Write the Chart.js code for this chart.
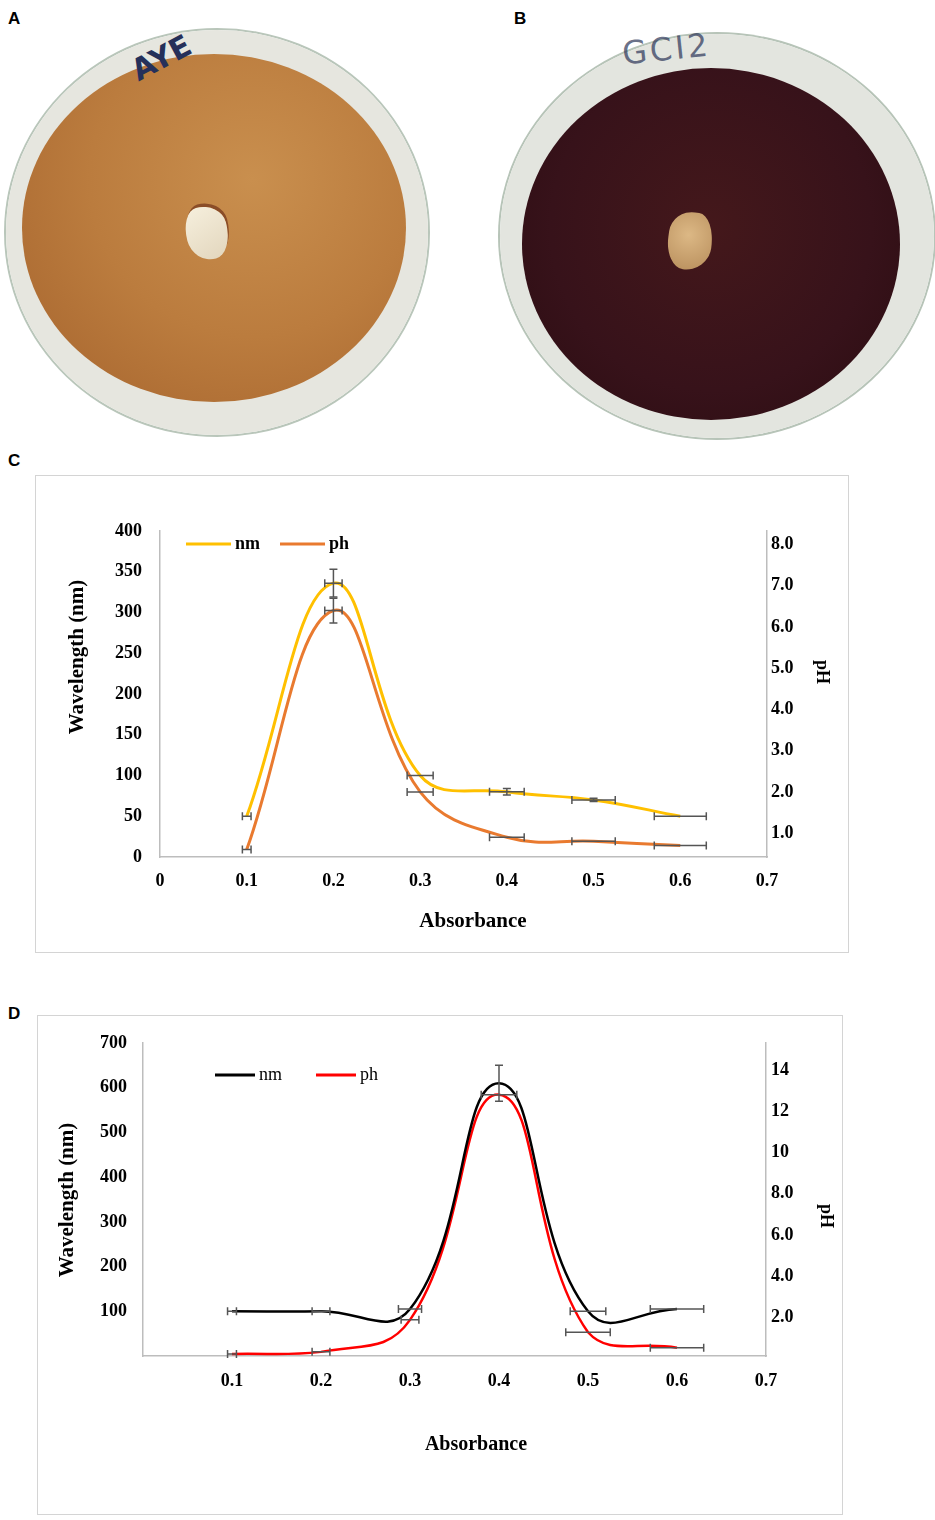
<!DOCTYPE html>
<html>
<head>
<meta charset="utf-8">
<script src="https://cdn.jsdelivr.net/npm/chart.js@4.4.1/dist/chart.umd.min.js"></script>
<style>
  body { margin: 0; background: #fff; }
  #page { position: relative; width: 935px; height: 1520px; overflow: hidden; }
  .lbl { position: absolute; font: bold 17px "Liberation Sans", Arial, sans-serif; color: #000; }
  .dish { position: absolute; border-radius: 50%; }
  .agar { position: absolute; border-radius: 50%; }
  .plug { position: absolute; }
  .ink { position: absolute; font-family: "DejaVu Sans", sans-serif; font-weight: bold; }
  .box { position: absolute; border: 1px solid #d4d4d4; background: #fff; }
  .box canvas { display: block; }
</style>
</head>
<body>
<div id="page">

  <div class="lbl" style="left:8px;top:9px">A</div>
  <div class="lbl" style="left:514px;top:9px">B</div>
  <div class="lbl" style="left:8px;top:451px">C</div>
  <div class="lbl" style="left:8px;top:1004px">D</div>

  <!-- plate A -->
  <div class="dish" style="left:6px;top:30px;width:422px;height:405px;
       background:radial-gradient(ellipse at center,#e6e6df 84%,#cdd6cb 91%,#8fae98 96%,#dfe4dc 100%);
       box-shadow:0 0 0 2px #b9c6ba;"></div>
  <div class="agar" style="left:22px;top:54px;width:384px;height:348px;
       background:radial-gradient(ellipse at 60% 36%,#c98f4e 0%,#bb7c3e 50%,#a5632d 100%);"></div>
  <div class="plug" style="left:186px;top:206px;width:42px;height:54px;transform:rotate(-15deg);
       border-radius:40% 60% 45% 55% / 55% 40% 60% 45%;
       background:linear-gradient(160deg,#f6efdd,#e2d6bd);box-shadow:2px -3px 0 #8a4d28;"></div>
  <div class="ink" style="left:130px;top:40px;font-size:30px;color:#25305a;transform:rotate(-28deg);">AYE</div>

  <!-- plate B -->
  <div class="dish" style="left:500px;top:34px;width:434px;height:404px;
       background:radial-gradient(ellipse at center,#e3e5df 85%,#c9d3c8 91%,#89a993 96%,#dde3da 100%);
       box-shadow:0 0 0 2px #b7c4b8;"></div>
  <div class="agar" style="left:522px;top:68px;width:378px;height:352px;
       background:radial-gradient(ellipse at 50% 45%,#44181b 0%,#37121a 60%,#2a0c10 100%);"></div>
  <div class="plug" style="left:668px;top:212px;width:44px;height:58px;transform:rotate(8deg);
       border-radius:55% 40% 60% 45% / 40% 60% 45% 55%;
       background:radial-gradient(circle at 45% 40%,#dcb885,#b68c5a);"></div>
  <div class="ink" style="left:622px;top:30px;font-size:32px;font-weight:normal;letter-spacing:3px;color:rgba(40,50,85,0.7);transform:rotate(-6deg);">GCI2</div>

  <!-- chart C -->
  <div class="box" style="left:35px;top:475px;width:812px;height:476px;">
    <canvas id="chartC" width="812" height="476"></canvas>
  </div>

  <!-- chart D -->
  <div class="box" style="left:37px;top:1015px;width:804px;height:498px;">
    <canvas id="chartD" width="804" height="498"></canvas>
  </div>
</div>

<script>
// shared x values
const absorbance = [0.1, 0.2, 0.3, 0.4, 0.5, 0.6];

// panel C
const nmC = [50, 336, 100, 80, 70, 50];
const phC = [0.6, 6.4, 2.0, 0.9, 0.8, 0.7];
const nmC_xErr = [0.005, 0.01, 0.015, 0.02, 0.025, 0.03];
const nmC_yErr = [0, 17, 0, 4, 2, 0];
const phC_xErr = [0.005, 0.01, 0.015, 0.02, 0.025, 0.03];
const phC_yErr = [0, 0.3, 0, 0, 0, 0];
const xTicksC = [0, 0.1, 0.2, 0.3, 0.4, 0.5, 0.6, 0.7];
const nmTicksC = [0, 50, 100, 150, 200, 250, 300, 350, 400];
const phTicksC = [1, 2, 3, 4, 5, 6, 7, 8];

// panel D
const nmD = [100, 100, 105, 610, 100, 105];
const phD = [0.25, 0.35, 1.9, 12.8, 1.3, 0.55];
const nmD_xErr = [0.005, 0.01, 0.013, 0, 0.02, 0.03];
const nmD_yErr = [0, 0, 0, 40, 0, 0];
const phD_xErr = [0.005, 0.01, 0.01, 0.02, 0.025, 0.03];
const phD_yErr = [0, 0, 0, 0, 0, 0];
const xTicksD = [0.1, 0.2, 0.3, 0.4, 0.5, 0.6, 0.7];
const nmTicksD = [100, 200, 300, 400, 500, 600, 700];
const phTicksD = [2, 4, 6, 8, 10, 12, 14];

const serif = "'Liberation Serif', 'Times New Roman', serif";

function points(xs, ys) {
  return xs.map((x, i) => ({ x: x, y: ys[i] }));
}

function useTicks(values) {
  return axis => { axis.ticks = values.map(v => ({ value: v })); };
}

// error bars, drawn through the dataset's own scales
const errorBars = {
  id: "errorBars",
  afterDatasetsDraw(chart, args, opts) {
    const ctx = chart.ctx;
    const cap = 4;
    ctx.save();
    ctx.strokeStyle = opts.color || "#555";
    ctx.lineWidth = 1.5;
    chart.data.datasets.forEach((ds, i) => {
      const meta = chart.getDatasetMeta(i);
      const xs = chart.scales[meta.xAxisID];
      const ys = chart.scales[meta.yAxisID];
      ds.data.forEach((p, j) => {
        const px = xs.getPixelForValue(p.x);
        const py = ys.getPixelForValue(p.y);
        const ex = ds.xErr ? ds.xErr[j] : 0;
        const ey = ds.yErr ? ds.yErr[j] : 0;
        ctx.beginPath();
        if (ex) {
          const x0 = xs.getPixelForValue(p.x - ex);
          const x1 = xs.getPixelForValue(p.x + ex);
          ctx.moveTo(x0, py); ctx.lineTo(x1, py);
          ctx.moveTo(x0, py - cap); ctx.lineTo(x0, py + cap);
          ctx.moveTo(x1, py - cap); ctx.lineTo(x1, py + cap);
        }
        if (ey) {
          const y0 = ys.getPixelForValue(p.y - ey);
          const y1 = ys.getPixelForValue(p.y + ey);
          ctx.moveTo(px, y0); ctx.lineTo(px, y1);
          ctx.moveTo(px - cap, y0); ctx.lineTo(px + cap, y0);
          ctx.moveTo(px - cap, y1); ctx.lineTo(px + cap, y1);
        }
        ctx.stroke();
      });
    });
    ctx.restore();
  }
};

// small line legend inside the plot
const lineLegend = {
  id: "lineLegend",
  afterDraw(chart, args, opts) {
    const ctx = chart.ctx;
    let x = opts.x;
    ctx.save();
    ctx.font = opts.font;
    ctx.textBaseline = "middle";
    ctx.fillStyle = "#000";
    chart.data.datasets.forEach(ds => {
      ctx.strokeStyle = ds.borderColor;
      ctx.lineWidth = 3;
      ctx.beginPath();
      ctx.moveTo(x, opts.y);
      ctx.lineTo(x + opts.lineLen, opts.y);
      ctx.stroke();
      ctx.fillText(ds.label, x + opts.lineLen + 4, opts.y);
      x += opts.step;
    });
    ctx.restore();
  }
};

// axis titles placed where the figure has them
const axisTitles = {
  id: "axisTitles",
  afterDraw(chart, args, opts) {
    const ctx = chart.ctx;
    opts.items.forEach(it => {
      ctx.save();
      ctx.translate(it.x, it.y);
      ctx.rotate(it.rotate || 0);
      ctx.font = it.font;
      ctx.fillStyle = "#000";
      ctx.textAlign = "center";
      ctx.textBaseline = "middle";
      ctx.fillText(it.text, 0, 0);
      ctx.restore();
    });
  }
};

function makeChart(id, cfg) {
  const tickFont = { family: serif, weight: "bold", size: 18 };
  return new Chart(document.getElementById(id), {
    type: "line",
    data: {
      datasets: [
        {
          label: "nm",
          data: points(absorbance, cfg.nm),
          xErr: cfg.nmXErr,
          yErr: cfg.nmYErr,
          yAxisID: "y",
          borderColor: cfg.nmColor,
          borderWidth: cfg.lineWidth,
          pointRadius: 0,
          tension: cfg.tension,
          fill: false
        },
        {
          label: "ph",
          data: points(absorbance, cfg.ph),
          xErr: cfg.phXErr,
          yErr: cfg.phYErr,
          yAxisID: "y2",
          borderColor: cfg.phColor,
          borderWidth: cfg.lineWidth,
          pointRadius: 0,
          tension: cfg.tension,
          fill: false
        }
      ]
    },
    options: {
      responsive: false,
      animation: false,
      layout: { padding: { top: cfg.top, left: 0, right: 0, bottom: 0 } },
      plugins: {
        legend: { display: false },
        tooltip: { enabled: false },
        errorBars: { color: "#555" },
        lineLegend: cfg.legend,
        axisTitles: { items: cfg.titles }
      },
      scales: {
        x: {
          type: "linear",
          min: 0,
          max: 0.7,
          afterBuildTicks: useTicks(cfg.xTicks),
          afterFit: s => { s.height = cfg.xHeight; },
          grid: { display: false, drawTicks: false },
          border: { display: true, color: "#bdbdbd", width: 1.5 },
          ticks: {
            color: "#000",
            font: tickFont,
            padding: cfg.xPad,
            maxRotation: 0,
            callback: v => (v === 0 ? "0" : v.toFixed(1))
          }
        },
        y: {
          position: "left",
          min: 0,
          max: cfg.nmMax,
          afterBuildTicks: useTicks(cfg.nmTicks),
          afterFit: s => { s.width = cfg.leftWidth; },
          grid: { display: false, drawTicks: false },
          border: { display: true, color: "#bdbdbd", width: 1.5 },
          ticks: { color: "#000", font: tickFont, padding: cfg.leftPad }
        },
        y2: {
          position: "right",
          min: cfg.phMin,
          max: cfg.phMax,
          afterBuildTicks: useTicks(cfg.phTicks),
          afterFit: s => { s.width = cfg.rightWidth; },
          grid: { display: false, drawTicks: false },
          border: { display: true, color: "#bdbdbd", width: 1.5 },
          ticks: {
            color: "#000",
            font: tickFont,
            padding: cfg.rightPad,
            callback: v => (v >= 10 ? String(v) : v.toFixed(1))
          }
        }
      }
    },
    plugins: [errorBars, lineLegend, axisTitles]
  });
}

makeChart("chartC", {
  nm: nmC, ph: phC,
  nmXErr: nmC_xErr, nmYErr: nmC_yErr, phXErr: phC_xErr, phYErr: phC_yErr,
  nmColor: "#FFC000", phColor: "#E97A2F", lineWidth: 3, tension: 0.4,
  xTicks: xTicksC, nmTicks: nmTicksC, phTicks: phTicksC,
  nmMax: 400, phMin: 0.42, phMax: 8.33,
  top: 55, xHeight: 95, leftWidth: 124, rightWidth: 81,
  xPad: 14, leftPad: 18, rightPad: 4,
  legend: { x: 150, y: 68, lineLen: 45, step: 94, font: "bold 18px " + serif },
  titles: [
    { text: "Wavelength (nm)", x: 42, y: 181, rotate: -Math.PI / 2, font: "bold 21px " + serif },
    { text: "Absorbance", x: 437, y: 446, font: "bold 21px " + serif },
    { text: "pH", x: 786, y: 196, rotate: Math.PI / 2, font: "bold 18px " + serif }
  ]
});

makeChart("chartD", {
  nm: nmD, ph: phD,
  nmXErr: nmD_xErr, nmYErr: nmD_yErr, phXErr: phD_xErr, phYErr: phD_yErr,
  nmColor: "#000000", phColor: "#FF0000", lineWidth: 2.5, tension: 0.45,
  xTicks: xTicksD, nmTicks: nmTicksD, phTicks: phTicksD,
  nmMax: 700, phMin: 0.15, phMax: 15.3,
  top: 27, xHeight: 158, leftWidth: 105, rightWidth: 76,
  xPad: 15, leftPad: 16, rightPad: 5,
  legend: { x: 177, y: 59, lineLen: 40, step: 101, font: "18px " + serif },
  titles: [
    { text: "Wavelength (nm)", x: 30, y: 184, rotate: -Math.PI / 2, font: "bold 21px " + serif },
    { text: "Absorbance", x: 438, y: 429, font: "bold 20px " + serif },
    { text: "pH", x: 788, y: 200, rotate: Math.PI / 2, font: "bold 18px " + serif }
  ]
});
</script>
</body>
</html>
